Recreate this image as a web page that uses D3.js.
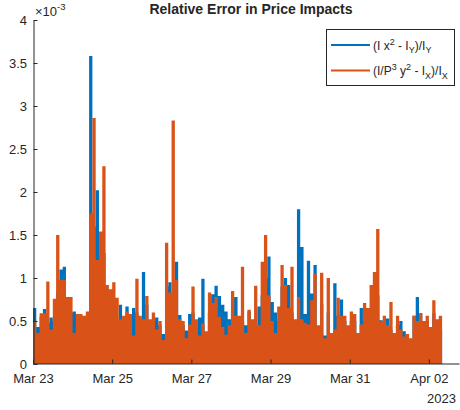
<!DOCTYPE html>
<html>
<head>
<meta charset="utf-8">
<script src="https://cdn.jsdelivr.net/npm/d3@7"></script>
<style>
  html, body { margin: 0; padding: 0; background: #fff; }
  text { font-family: "Liberation Sans", Arial, Helvetica, sans-serif; fill: #262626; }
</style>
</head>
<body>
<script>
// ---------------- data (values in units of 1e-3) ----------------
const seriesStart = new Date(2023, 2, 23, 0, 0);   // first sample
const stepHours = 2;                                 // sampling step of the arrays below
const xDomainEnd = new Date(2023, 3, 2, 18, 14);     // right end of the x axis

const seriesNames = ["(I x^2 - I_Y)/I_Y", "(I/P^3 y^2 - I_X)/I_X"];

const blueValues = [
  0.65,0.43,0.55,0.64,0.48,0.54,0.50,0.84,1.10,1.13,
  0.48,0.60,0.61,0.58,0.50,0.45,0.50,3.58,1.60,2.02,
  1.00,1.29,0.60,0.40,0.60,0.50,0.69,0.40,0.67,0.45,
  0.65,0.60,0.40,1.07,0.69,0.45,0.50,0.54,0.45,0.35,
  0.90,0.95,0.50,1.19,0.57,0.45,0.39,0.58,0.60,0.45,
  0.54,0.99,0.35,0.60,0.81,0.91,0.79,0.69,0.61,0.52,
  0.78,0.78,0.45,0.50,0.45,0.61,0.45,0.38,0.67,0.80,
  1.00,1.25,0.72,0.60,0.50,0.90,1.00,0.92,0.60,0.45,
  1.80,1.36,0.58,1.20,0.82,1.15,0.40,0.70,0.33,0.60,
  0.30,0.94,0.56,0.75,0.50,0.40,0.50,0.50,0.35,0.65,
  0.50,0.38,0.60,0.70,0.80,0.51,0.45,0.53,0.40,0.35,
  0.45,0.50,0.38,0.30,0.28,0.56,0.78,0.59,0.45,0.50,
  0.43,0.59,0.45,0.40,0.12
];

const orangeValues = [
  0.49,0.36,0.59,0.59,0.96,0.40,0.76,1.50,0.98,0.98,
  0.78,0.78,0.36,0.58,0.58,0.56,0.61,1.75,2.86,1.21,
  1.54,2.30,0.92,0.87,0.95,0.77,0.52,0.56,0.61,0.58,
  0.33,0.99,0.56,0.52,0.79,0.52,0.60,0.40,0.50,0.28,
  1.41,0.83,2.83,0.98,0.52,0.50,0.30,0.46,0.90,0.52,
  0.33,0.47,0.38,0.83,0.71,0.78,0.55,0.43,0.34,0.45,
  0.85,0.56,0.56,1.13,0.36,0.63,0.52,0.91,0.45,1.19,
  1.50,0.80,0.50,0.36,0.67,1.15,0.92,0.65,1.13,0.52,
  0.78,0.52,0.48,0.46,0.74,1.05,0.45,1.06,0.30,1.00,
  0.36,0.40,0.77,0.56,0.56,0.45,0.61,0.58,0.36,0.46,
  0.71,0.65,0.92,1.07,1.57,0.49,0.56,0.45,0.72,0.36,
  0.56,0.40,0.32,0.35,0.30,0.56,0.50,0.59,0.50,0.56,
  0.43,0.74,0.52,0.56,0.05
];

const xTickDates = [
  new Date(2023, 2, 23), new Date(2023, 2, 25), new Date(2023, 2, 27),
  new Date(2023, 2, 29), new Date(2023, 2, 31), new Date(2023, 3, 2)
];
const xTickLabels = ["Mar 23", "Mar 25", "Mar 27", "Mar 29", "Mar 31", "Apr 02"];
const yTickValues = [0, 0.5, 1, 1.5, 2, 2.5, 3, 3.5, 4];
const yTickLabels = ["0", "0.5", "1", "1.5", "2", "2.5", "3", "3.5", "4"];

const colors = ["#0072BD", "#D95319"];

// ---------------- drawing ----------------
const W = 460, H = 410;
const svg = d3.select("body").append("svg").attr("width", W).attr("height", H);

const x = d3.scaleTime().domain([seriesStart, xDomainEnd]).range([33, 459]);
const y = d3.scaleLinear().domain([0, 4]).range([364, 20]);

function toPoints(values) {
  return values.map((v, i) => ({ t: d3.timeHour.offset(seriesStart, i * stepHours), v }));
}

const area = d3.area()
  .x(d => x(d.t))
  .y0(y(0))
  .y1(d => y(d.v))
  .curve(d3.curveStepAfter);

const plot = svg.append("g");
[blueValues, orangeValues].forEach((vals, k) => {
  plot.append("path")
    .datum(toPoints(vals))
    .attr("d", area)
    .attr("fill", colors[k])
    .attr("stroke", "none");
});

// axes
const xAxis = d3.axisBottom(x)
  .tickValues(xTickDates)
  .tickFormat((d, i) => xTickLabels[i])
  .tickSizeInner(-4).tickSizeOuter(0).tickPadding(10);
const gx = svg.append("g").attr("transform", "translate(0,363.5)").call(xAxis);
gx.select(".domain").attr("stroke", "#262626");
gx.selectAll(".tick line").attr("stroke", "#262626");
gx.selectAll(".tick text").attr("font-size", 13).attr("fill", "#262626")
  .attr("font-family", "Liberation Sans, Arial, sans-serif");

const yAxis = d3.axisLeft(y)
  .tickValues(yTickValues)
  .tickFormat((d, i) => yTickLabels[i])
  .tickSizeInner(-4).tickSizeOuter(0).tickPadding(6.5);
const gy = svg.append("g").attr("transform", "translate(33.5,0)").call(yAxis);
gy.select(".domain").attr("stroke", "#262626");
gy.selectAll(".tick line").attr("stroke", "#262626");
gy.selectAll(".tick text").attr("font-size", 13).attr("fill", "#262626")
  .attr("font-family", "Liberation Sans, Arial, sans-serif");

// year label
svg.append("text").attr("x", 456).attr("y", 403).attr("text-anchor", "end")
  .attr("font-size", 13).text("2023");

// exponent label
const ex = svg.append("text").attr("x", 35).attr("y", 16).attr("font-size", 13);
ex.append("tspan").text("\u00d710");
ex.append("tspan").attr("font-size", 9.5).attr("dy", -6).text("-3");

// title
svg.append("text").attr("x", 251).attr("y", 14).attr("text-anchor", "middle")
  .attr("font-size", 14).attr("font-weight", "bold").text("Relative Error in Price Impacts");

// legend
const lg = svg.append("g");
lg.append("rect").attr("x", 326.5).attr("y", 29.5).attr("width", 128).attr("height", 56)
  .attr("fill", "#fff").attr("stroke", "#262626").attr("stroke-width", 1);

const legendRows = [
  { parts: [["(I x", 0], ["2", -1], [" - I", 0], ["Y", 1], [")/I", 0], ["Y", 1]] },
  { parts: [["(I/P", 0], ["3", -1], [" y", 0], ["2", -1], [" - I", 0], ["X", 1], [")/I", 0], ["X", 1]] }
];
legendRows.forEach((row, k) => {
  const cy = 45 + k * 25.5;
  lg.append("line").attr("x1", 331).attr("x2", 370).attr("y1", cy).attr("y2", cy)
    .attr("stroke", colors[k]).attr("stroke-width", 2);
  const t = lg.append("text").attr("x", 373).attr("y", cy + 4.5).attr("font-size", 12);
  let level = 0;
  row.parts.forEach(([s, lv]) => {
    const target = lv === -1 ? -5 : (lv === 1 ? 3.5 : 0);
    t.append("tspan").attr("dy", target - level)
      .attr("font-size", lv === 0 ? 12 : 9).text(s);
    level = target;
  });
});
</script>
</body>
</html>
